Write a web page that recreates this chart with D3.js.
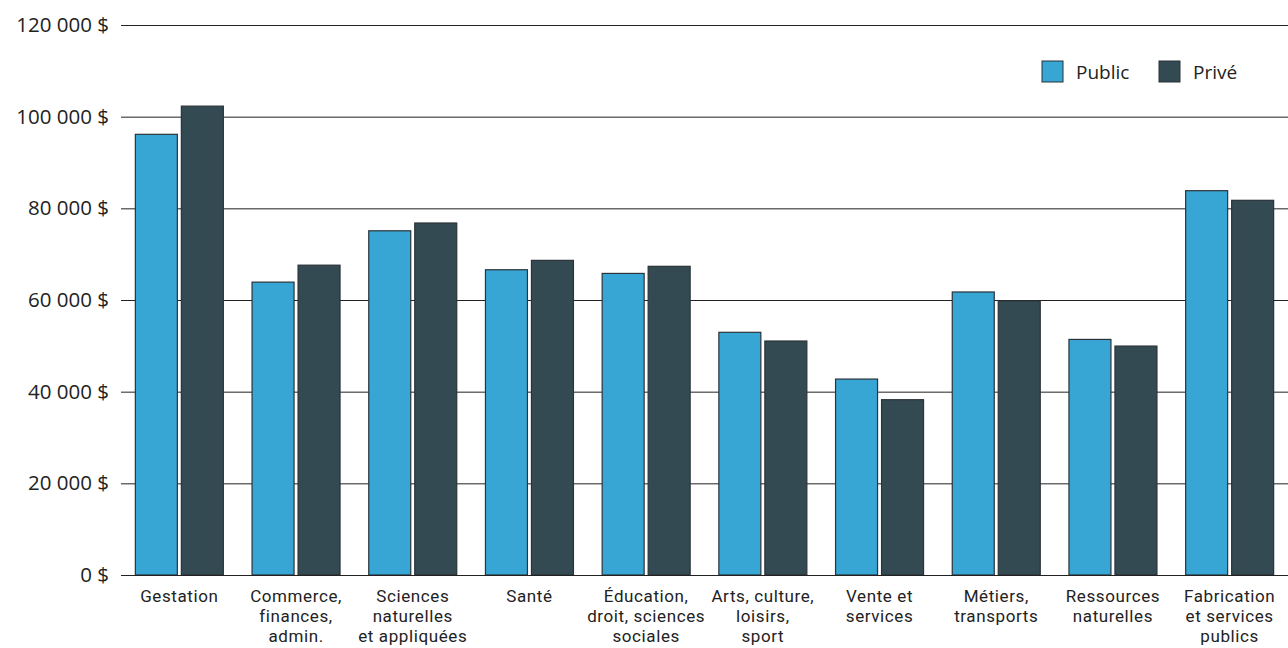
<!DOCTYPE html>
<html lang="fr">
<head>
<meta charset="utf-8">
<script src="https://cdn.jsdelivr.net/npm/d3@7"></script>
<style>
  html, body { margin: 0; padding: 0; background: #fff; }
  svg { display: block; font-family: "Open Sans", "Noto Sans", sans-serif; }
  .cat { font-family: Roboto, "Open Sans", sans-serif; }
</style>
</head>
<body>
<svg id="chart" width="1288" height="648"></svg>
<script>
// Catégories professionnelles (libellés sur plusieurs lignes)
const categories = [
  ["Gestation"],
  ["Commerce,", "finances,", "admin."],
  ["Sciences", "naturelles", "et appliquées"],
  ["Santé"],
  ["Éducation,", "droit, sciences", "sociales"],
  ["Arts, culture,", "loisirs,", "sport"],
  ["Vente et", "services"],
  ["Métiers,", "transports"],
  ["Ressources", "naturelles"],
  ["Fabrication", "et services", "publics"]
];
const series = ["Public", "Privé"];
const publicValues = [96150, 63900, 75100, 66600, 65800, 52950, 42750, 61750, 51400, 83850];
const priveValues  = [102300, 67600, 76800, 68650, 67350, 51050, 38250, 59800, 49950, 81750];
const yTicks = [0, 20000, 40000, 60000, 80000, 100000, 120000];
const colors = { "Public": "#37a6d5", "Privé": "#344a52" };

const svg = d3.select("#chart");
const plotLeft = 121, plotRight = 1288, plotTop = 25, plotBottom = 575;

const keys = categories.map(c => c.join(" "));
const rows = keys.map((k, i) => ({ key: k, lines: categories[i], Public: publicValues[i], "Privé": priveValues[i] }));

const y = d3.scaleLinear().domain([0, 120000]).range([plotBottom, plotTop]);
const x0 = d3.scaleBand().domain(keys).range([plotLeft, plotRight]).padding(0);
const x1 = d3.scaleBand().domain(series).range([0, x0.bandwidth()])
  .paddingInner(0.087).paddingOuter(0.312);

const fmt = v => d3.format(",")(v).replace(/,/g, "\u00a0") + "\u00a0$";

// Lignes de grille horizontales
svg.append("g").selectAll("line").data(yTicks).join("line")
  .attr("x1", plotLeft).attr("x2", plotRight)
  .attr("y1", d => y(d) + 0.5).attr("y2", d => y(d) + 0.5)
  .attr("stroke", "#222").attr("stroke-width", 1);

// Étiquettes de l'axe vertical
svg.append("g").selectAll("text").data(yTicks).join("text")
  .attr("x", 109).attr("y", d => y(d) + 7)
  .attr("text-anchor", "end")
  .attr("font-size", 20.5).attr("fill", "#222")
  .text(d => fmt(d));

// Barres groupées
const groups = svg.append("g").selectAll("g").data(rows).join("g")
  .attr("transform", d => `translate(${x0(d.key)},0)`);
groups.selectAll("rect").data(d => series.map(s => ({ s, v: d[s] }))).join("rect")
  .attr("x", d => x1(d.s))
  .attr("y", d => y(d.v))
  .attr("width", x1.bandwidth())
  .attr("height", d => y(0) - y(d.v))
  .attr("fill", d => colors[d.s])
  .attr("stroke", "#2b3338").attr("stroke-width", 1.2);

// Ligne de base
svg.append("line").attr("x1", plotLeft).attr("x2", plotRight)
  .attr("y1", y(0) + 0.5).attr("y2", y(0) + 0.5)
  .attr("stroke", "#222").attr("stroke-width", 1.2);

// Libellés des catégories, une ligne par élément texte
const lab = svg.append("g").selectAll("g").data(rows).join("g")
  .attr("transform", d => `translate(${x0(d.key) + x0.bandwidth() / 2},602)`);
lab.selectAll("text").data(d => d.lines).join("text")
  .attr("class", "cat")
  .attr("text-anchor", "middle").attr("font-size", 17).attr("fill", "#222")
  .attr("letter-spacing", 0.6)
  .attr("y", (d, i) => i * 20)
  .text(d => d);

// Légende
const legend = svg.append("g").selectAll("g").data(series).join("g")
  .attr("transform", (d, i) => `translate(${1042 + i * 117},61)`);
legend.append("rect").attr("width", 21).attr("height", 21)
  .attr("fill", d => colors[d]).attr("stroke", "#2b3338").attr("stroke-width", 1);
legend.append("text").attr("x", 34).attr("y", 18)
  .attr("font-size", 19).attr("fill", "#222").text(d => d);
</script>
</body>
</html>
